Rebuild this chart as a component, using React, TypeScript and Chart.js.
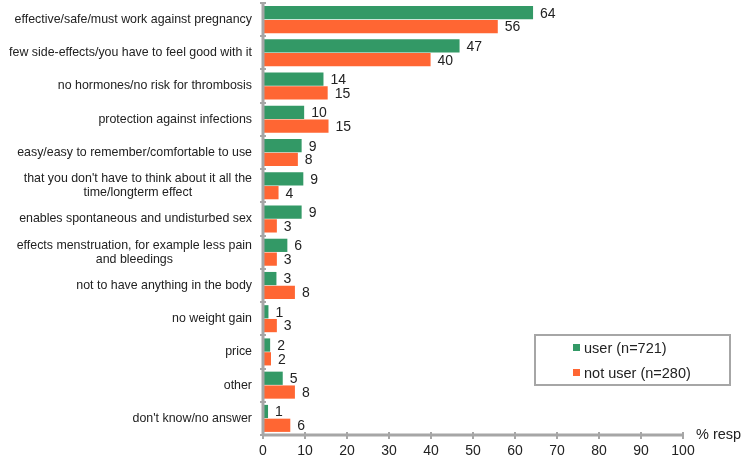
import React, { useEffect, useRef } from "react";
import { Chart, registerables } from "chart.js";
Chart.register(...registerables);

const categories: (string | string[])[] = [
  "effective/safe/must work against pregnancy",
  "few side-effects/you have to feel good with it",
  "no hormones/no risk for thrombosis",
  "protection against infections",
  "easy/easy to remember/comfortable to use",
  ["that you don't have to think about it all the", "time/longterm effect"],
  "enables spontaneous and undisturbed sex",
  ["effects menstruation, for example less pain", "and bleedings"],
  "not to have anything in the body",
  "no weight gain",
  "price",
  "other",
  "don't know/no answer",
];
const userValues = [64.3, 46.8, 14.4, 9.8, 9.2, 9.6, 9.2, 5.8, 3.2, 1.3, 1.7, 4.7, 1.2];
const notUserValues = [55.9, 39.9, 15.4, 15.6, 8.3, 3.7, 3.3, 3.3, 7.6, 3.3, 1.9, 7.6, 6.5];
const userLabels = [64, 47, 14, 10, 9, 9, 9, 6, 3, 1, 2, 5, 1];
const notUserLabels = [56, 40, 15, 15, 8, 4, 3, 3, 8, 3, 2, 8, 6];
const seriesNames = ["user (n=721)", "not user (n=280)"];
const xTicks = [0, 10, 20, 30, 40, 50, 60, 70, 80, 90, 100];
const xAxisTitle = "% resp";

const GREEN = "#339966";
const ORANGE = "#ff6633";
const AXIS = "#a6a6a6";
const TEXT = "#222222";
const FONT = "'Liberation Sans', Arial, sans-serif";

const customPlugin = {
  id: "custom",
  afterDraw(chart: any) {
    const ctx = chart.ctx as CanvasRenderingContext2D;
    const area = chart.chartArea;
    const xs = chart.scales.x;
    const ys = chart.scales.y;
    ctx.save();
    // axes lines
    ctx.strokeStyle = AXIS;
    ctx.lineWidth = 3;
    ctx.beginPath();
    ctx.moveTo(area.left, area.top);
    ctx.lineTo(area.left, area.bottom);
    ctx.moveTo(area.left, area.bottom);
    ctx.lineTo(area.right, area.bottom);
    ctx.stroke();
    // y tick marks (category boundaries)
    ctx.lineWidth = 2;
    const n = categories.length;
    const step = (area.bottom - area.top) / n;
    ctx.beginPath();
    for (let i = 0; i <= n; i++) {
      const y = Math.round(area.top + i * step);
      ctx.moveTo(area.left - 3, y);
      ctx.lineTo(area.left + 3, y);
    }
    // x tick marks
    for (const v of xTicks) {
      const x = Math.round(xs.getPixelForValue(v));
      ctx.moveTo(x, area.bottom - 3);
      ctx.lineTo(x, area.bottom + 4);
    }
    ctx.stroke();

    // y labels
    ctx.fillStyle = TEXT;
    ctx.font = `12.4px ${FONT}`;
    ctx.textBaseline = "middle";
    const rightX = area.left - 11;
    categories.forEach((c, i) => {
      const yc = ys.getPixelForValue(i);
      const lines = Array.isArray(c) ? c : [c];
      const lh = 14;
      const widest = Math.max(...lines.map((l) => ctx.measureText(l).width));
      ctx.textAlign = "center";
      lines.forEach((l, k) => {
        const y = yc + (k - (lines.length - 1) / 2) * lh;
        ctx.fillText(l, rightX - widest / 2, y);
      });
    });

    // data labels
    ctx.font = `14px ${FONT}`;
    ctx.textAlign = "left";
    const labelSets = [userLabels, notUserLabels];
    [0, 1].forEach((d) => {
      const meta = chart.getDatasetMeta(d);
      meta.data.forEach((bar: any, j: number) => {
        ctx.fillText(String(labelSets[d][j]), bar.x + 7, bar.y + 1);
      });
    });

    // x axis title
    ctx.font = `14.5px ${FONT}`;
    ctx.fillText(xAxisTitle, area.right + 13, area.bottom);

    // legend
    const lx = 535, ly = 335, lw = 195, lh2 = 50;
    ctx.strokeStyle = AXIS;
    ctx.lineWidth = 2;
    ctx.strokeRect(lx, ly, lw, lh2);
    const colors = [GREEN, ORANGE];
    ctx.font = `14.5px ${FONT}`;
    seriesNames.forEach((name, i) => {
      const y = ly + 13 + i * 25;
      ctx.fillStyle = colors[i];
      ctx.fillRect(573, y - 4, 7, 7);
      ctx.fillStyle = TEXT;
      ctx.textAlign = "left";
      ctx.fillText(name, 584, y + 1);
    });
    ctx.restore();
  },
};

export default function App() {
  const ref = useRef<HTMLCanvasElement>(null);
  useEffect(() => {
    document.body.style.margin = "0";
    const chart = new Chart(ref.current!, {
      type: "bar",
      data: {
        labels: categories as any,
        datasets: [
          { label: seriesNames[0], data: userValues, backgroundColor: GREEN },
          { label: seriesNames[1], data: notUserValues, backgroundColor: ORANGE },
        ],
      },
      options: {
        indexAxis: "y",
        animation: false,
        responsive: false,
        layout: { padding: { top: 3, right: 67, bottom: 0, left: 0 } },
        datasets: { bar: { categoryPercentage: 0.83, barPercentage: 0.96 } } as any,
        plugins: { legend: { display: false }, tooltip: { enabled: false } },
        scales: {
          x: {
            min: 0,
            max: 100,
            grid: { display: false },
            border: { display: false },
            ticks: {
              stepSize: 10,
              color: TEXT,
              font: { size: 14, family: FONT },
              padding: 0,
            },
            afterFit: (s: any) => {
              s.height = 30;
            },
          },
          y: {
            grid: { display: false },
            border: { display: false },
            ticks: { display: false },
            afterFit: (s: any) => {
              s.width = 263;
            },
          },
        },
      },
      plugins: [customPlugin],
    });
    return () => chart.destroy();
  }, []);
  return (
    <div style={{ position: "absolute", left: 0, top: 0, width: 750, height: 465 }}>
      <canvas ref={ref} width={750} height={465} />
    </div>
  );
}
